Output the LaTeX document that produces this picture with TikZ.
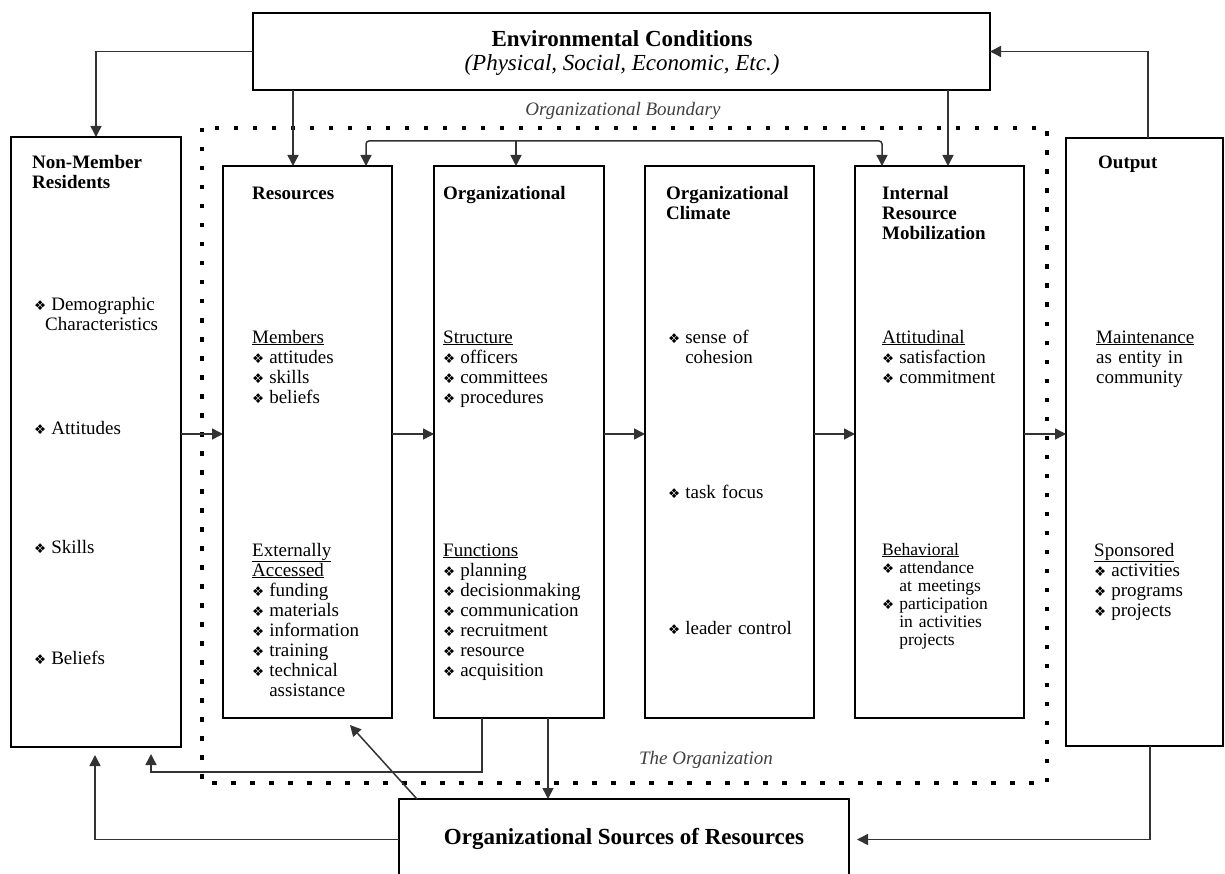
\documentclass[tikz,border=0pt]{standalone}
\usepackage{fontspec}
\setmainfont{Liberation Serif}
\newfontfamily\dejavu{DejaVu Sans}
\usetikzlibrary{arrows.meta}
\newcommand{\dbul}{{\dejavu\fontsize{13.5}{13.5}\selectfont ❖}\hspace{5pt}}
\newcommand{\dind}{\phantom{\dbul}}
\begin{document}
\begin{tikzpicture}[x=1pt,y=-1pt,
  box/.style={draw=black, line width=2.4pt, inner sep=0pt, outer sep=0pt},
  txt/.style={inner sep=0pt, anchor=base west, align=left, text width=150pt, font=\fontsize{19}{20}\selectfont},
  ttl/.style={txt, font=\bfseries\fontsize{19}{20}\selectfont},
  small/.style={txt, font=\fontsize{17.5}{18}\selectfont},
  conn/.style={draw=black!80, line width=1.5pt, -{Triangle[length=11pt,width=11pt]}},
  boundary/.style={draw=black, line width=4.5pt, dash pattern=on 4.5pt off 14.5pt},
  lab/.style={inner sep=0pt, anchor=base, font=\itshape\fontsize{19}{20}\selectfont, text=black!75},
  big/.style={inner sep=0pt, anchor=base, font=\bfseries\fontsize{23}{24}\selectfont}
]
\useasboundingbox (0,0) rectangle (1225,874);
% boxes
\node[box, minimum width=737pt, minimum height=77pt] (env) at (621.5,51.5) {};
\node[box, minimum width=170pt, minimum height=610pt] (nm) at (96,442) {};
\node[box, minimum width=169pt, minimum height=552pt] (res) at (307.5,442) {};
\node[box, minimum width=170pt, minimum height=552pt] (org) at (519,442) {};
\node[box, minimum width=169pt, minimum height=552pt] (clim) at (729.5,442) {};
\node[box, minimum width=169pt, minimum height=552pt] (intl) at (939.5,442) {};
\node[box, minimum width=157pt, minimum height=608pt] (out) at (1144.5,442) {};
\node[box, minimum width=450pt, minimum height=81pt] (src) at (624,839.5) {};
% organizational boundary
\draw[boundary] (202,128) rectangle (1047,783);
% titles
\node[big] (envT) at (622,47) {Environmental Conditions};
\node[big, font=\itshape\fontsize{23}{24}\selectfont] (envS) at (622,71) {(Physical, Social, Economic, Etc.)};
\node[big] (srcT) at (624,844) {Organizational Sources of Resources};
\node[lab] (bLab) at (623,116) {Organizational Boundary};
\node[lab] (oLab) at (706,764) {The Organization};
% non-members
\node[ttl] (nmT) at (32,169) {Non-Member\\Residents};
\node[txt] (nm1) at (34,311) {\dbul Demographic\\\hspace*{11pt}Characteristics};
\node[txt] (nm2) at (34,434) {\dbul Attitudes};
\node[txt] (nm3) at (34,553) {\dbul Skills};
\node[txt] (nm4) at (34,664) {\dbul Beliefs};
% resources
\node[ttl] (resT) at (252,200) {Resources};
\node[txt] (res1) at (252,343) {\underline{Members}\\\dbul attitudes\\\dbul skills\\\dbul beliefs};
\node[txt] (res2) at (252,556) {\underline{Externally}\\\underline{Accessed}\\\dbul funding\\\dbul materials\\\dbul information\\\dbul training\\\dbul technical\\\dind assistance};
% organizational
\node[ttl] (orgT) at (443,200) {Organizational};
\node[txt] (org1) at (443,343) {\underline{Structure}\\\dbul officers\\\dbul committees\\\dbul procedures};
\node[txt] (org2) at (443,556) {\underline{Functions}\\\dbul planning\\\dbul decisionmaking\\\dbul communication\\\dbul recruitment\\\dbul resource\\\dbul acquisition};
% climate
\node[ttl] (climT) at (666,200) {Organizational\\Climate};
\node[txt] (clim1) at (668,343) {\dbul sense of\\\dind cohesion};
\node[txt] (clim2) at (668,498) {\dbul task focus};
\node[txt] (clim3) at (668,634) {\dbul leader control};
% internal
\node[ttl] (intlT) at (882,200) {Internal\\Resource\\Mobilization};
\node[txt] (intl1) at (882,343) {\underline{Attitudinal}\\\dbul satisfaction\\\dbul commitment};
\node[small] (intl2) at (882,555) {\underline{Behavioral}\\\dbul attendance\\\dind at meetings\\\dbul participation\\\dind in activities\\\dind projects};
% output
\node[ttl, text width=120pt] (outT) at (1098,169) {Output};
\node[txt, text width=120pt] (out1) at (1096,343) {\underline{Maintenance}\\as entity in\\community};
\node[txt, text width=120pt] (out2) at (1094,556) {\underline{Sponsored}\\\dbul activities\\\dbul programs\\\dbul projects};
% connectors
\coordinate (bus) at (516,141);
\draw[conn] (bus) -- ([xshift=-3pt]org.north);
\draw[conn, rounded corners=3pt] (bus) -| ([xshift=58.5pt]res.north);
\draw[conn, rounded corners=3pt] (bus) -| ([xshift=-57.5pt]intl.north);
\draw[conn] (env.west) -| (nm.north);
\draw[conn] ([xshift=-14.5pt]env.south -| res.north) -- ([xshift=-14.5pt]res.north);
\draw[conn] ([xshift=8.5pt]env.south -| intl.north) -- ([xshift=8.5pt]intl.north);
\draw[conn] ([xshift=3.5pt]out.north) |- (env.east);
\draw[conn] ([yshift=8pt]nm.east) -- ([yshift=8pt]res.west);
\draw[conn] ([yshift=8pt]res.east) -- ([yshift=8pt]org.west);
\draw[conn] ([yshift=8pt]org.east) -- ([yshift=8pt]clim.west);
\draw[conn] ([yshift=8pt]clim.east) -- ([yshift=8pt]intl.west);
\draw[conn] ([yshift=8pt]intl.east) -- ([yshift=8pt]out.west);
\coordinate (loopA) at (151,772);
\draw[conn] ([xshift=-37pt]org.south) |- (loopA) -- ([xshift=55pt,yshift=-7pt]nm.south);
\draw[conn] ([xshift=29pt]org.south) -- ([xshift=29pt]org.south |- src.north);
\draw[conn] ([xshift=-207pt]src.north) -- ([xshift=42.5pt,yshift=-7pt]res.south);
\draw[conn] (src.west) -| ([xshift=-1pt,yshift=-8pt]nm.south);
\draw[conn] ([xshift=5.5pt]out.south) |- ([xshift=8pt]src.east);
\end{tikzpicture}
\end{document}
